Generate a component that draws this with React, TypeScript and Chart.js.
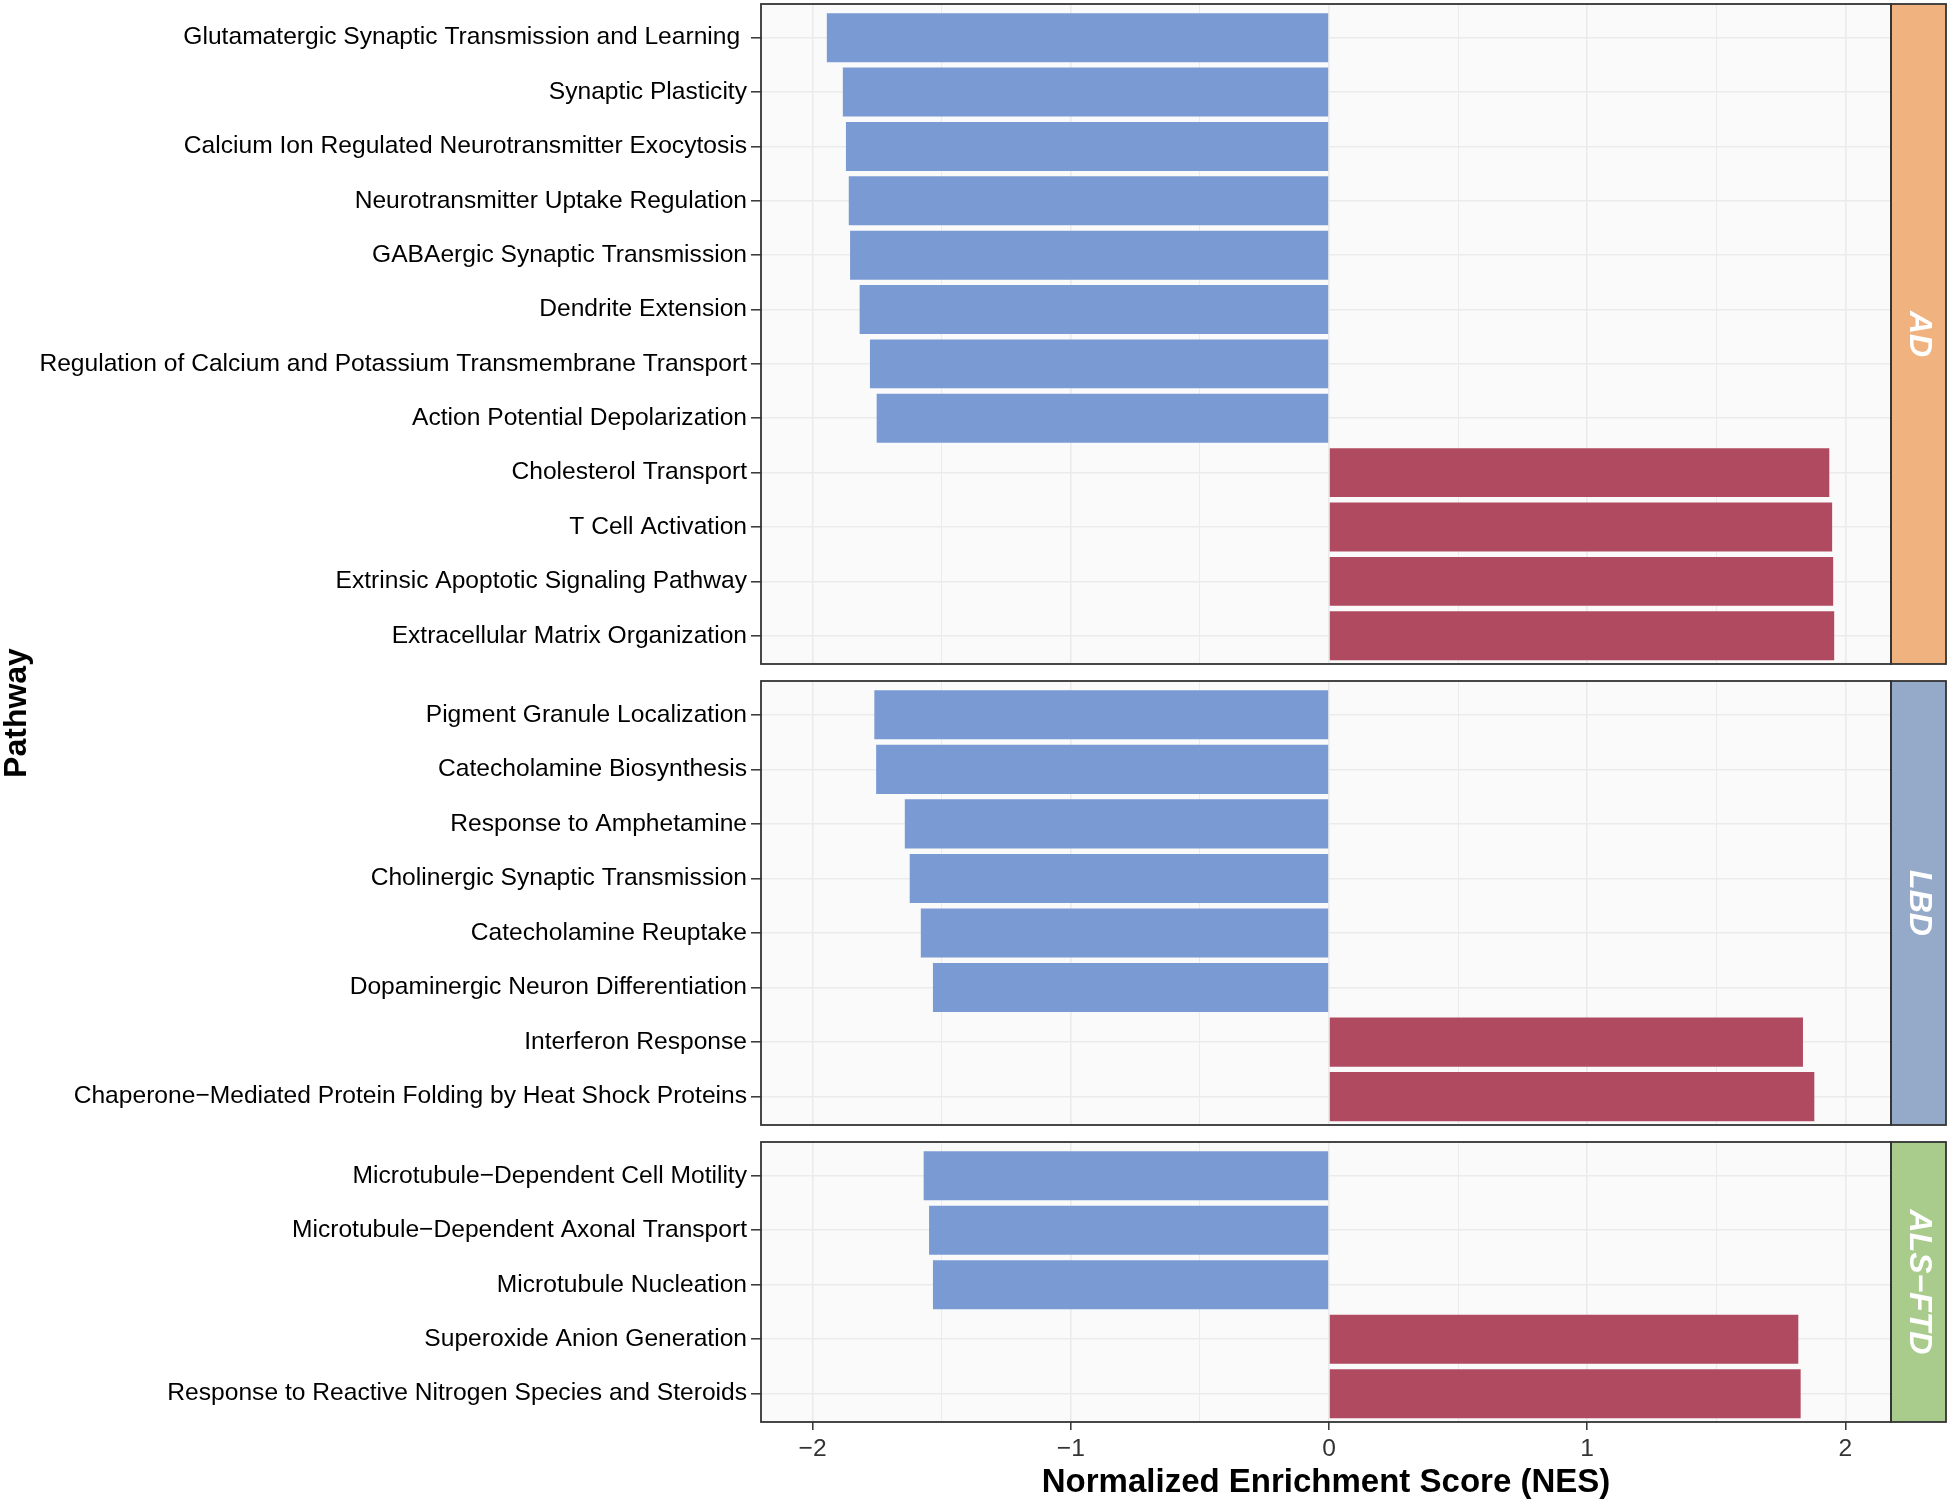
import React, { useEffect, useRef } from "react";
import { Chart, registerables } from "chart.js";
Chart.register(...registerables);

const W = 1950;
const H = 1502;

const adLabels = [
  "Glutamatergic Synaptic Transmission and Learning ",
  "Synaptic Plasticity",
  "Calcium Ion Regulated Neurotransmitter Exocytosis",
  "Neurotransmitter Uptake Regulation",
  "GABAergic Synaptic Transmission",
  "Dendrite Extension",
  "Regulation of Calcium and Potassium Transmembrane Transport",
  "Action Potential Depolarization",
  "Cholesterol Transport",
  "T Cell Activation",
  "Extrinsic Apoptotic Signaling Pathway",
  "Extracellular Matrix Organization",
];
const adValues = [-1.945, -1.883, -1.871, -1.86, -1.855, -1.818, -1.778, -1.752, 1.938, 1.949, 1.953, 1.957];

const lbdLabels = [
  "Pigment Granule Localization",
  "Catecholamine Biosynthesis",
  "Response to Amphetamine",
  "Cholinergic Synaptic Transmission",
  "Catecholamine Reuptake",
  "Dopaminergic Neuron Differentiation",
  "Interferon Response",
  "Chaperone\u2212Mediated Protein Folding by Heat Shock Proteins",
];
const lbdValues = [-1.761, -1.754, -1.643, -1.624, -1.581, -1.534, 1.836, 1.88];

const alsLabels = [
  "Microtubule\u2212Dependent Cell Motility",
  "Microtubule\u2212Dependent Axonal Transport",
  "Microtubule Nucleation",
  "Superoxide Anion Generation",
  "Response to Reactive Nitrogen Species and Steroids",
];
const alsValues = [-1.57, -1.549, -1.534, 1.818, 1.827];

const panelNames = ["AD", "LBD", "ALS\u2212FTD"];
const stripColors = ["#F0B27E", "#94AAC8", "#A9CC8D"];
const xTickValues = [-2, -1.5, -1, -0.5, 0, 0.5, 1, 1.5, 2];
const xTitle = "Normalized Enrichment Score (NES)";
const yTitle = "Pathway";

const X_MIN = -2.2;
const X_MAX = 2.177;
const Y_EXPAND_TOP = 0.62;
const Y_EXPAND_BOTTOM = 0.52;
const PLOT_LEFT = 761;
const PLOT_RIGHT = 1891;
const STRIP_RIGHT = 1946;
const PANEL_BOUNDS = [
  [4, 664],
  [681, 1125],
  [1142, 1422],
];

const NEG_COLOR = "#7A9AD4";
const POS_COLOR = "#B04A60";
const FONT = '"Liberation Sans", Arial, Helvetica, sans-serif';

function makeConfig(idx: number, labels: string[], values: number[]) {
  const isLast = idx === 2;
  const [top, bottom] = PANEL_BOUNDS[idx];
  const panelPlugin = {
    id: "panelDeco" + idx,
    beforeDraw(chart: any) {
      const { ctx, chartArea: a } = chart;
      ctx.save();
      ctx.fillStyle = "#FAFAFA";
      ctx.fillRect(a.left, a.top, a.right - a.left, a.bottom - a.top);
      ctx.restore();
    },
    afterDraw(chart: any) {
      const { ctx, chartArea: a } = chart;
      ctx.save();
      ctx.fillStyle = stripColors[idx];
      ctx.fillRect(a.right, a.top, STRIP_RIGHT - a.right, a.bottom - a.top);
      ctx.strokeStyle = "#333333";
      ctx.lineWidth = 1.8;
      ctx.strokeRect(a.right, a.top, STRIP_RIGHT - a.right, a.bottom - a.top);
      ctx.strokeRect(a.left, a.top, a.right - a.left, a.bottom - a.top);
      ctx.translate((a.right + STRIP_RIGHT) / 2, (a.top + a.bottom) / 2);
      ctx.rotate(Math.PI / 2);
      ctx.fillStyle = "#FFFFFF";
      ctx.font = "italic bold 32px " + FONT;
      ctx.textAlign = "center";
      ctx.textBaseline = "middle";
      ctx.fillText(panelNames[idx], 0, 0);
      ctx.restore();
      if (idx === 1) {
        ctx.save();
        ctx.translate(17, (PANEL_BOUNDS[0][0] + PANEL_BOUNDS[2][1]) / 2);
        ctx.rotate(-Math.PI / 2);
        ctx.fillStyle = "#000000";
        ctx.font = "bold 32px " + FONT;
        ctx.textAlign = "center";
        ctx.textBaseline = "middle";
        ctx.fillText(yTitle, 0, 0);
        ctx.restore();
      }
    },
  };

  return {
    type: "bar",
    data: {
      datasets: [
        {
          data: values.map((v, i) => ({ x: v, y: i })),
          backgroundColor: values.map((v) => (v < 0 ? NEG_COLOR : POS_COLOR)),
          borderWidth: 0,
          barPercentage: 0.9,
          categoryPercentage: 1.0,
        },
      ],
    },
    options: {
      indexAxis: "y",
      animation: false,
      responsive: false,
      devicePixelRatio: 1,
      layout: {
        padding: {
          left: 0,
          right: W - PLOT_RIGHT,
          top: top,
          bottom: isLast ? 0 : H - bottom,
        },
      },
      plugins: {
        legend: { display: false },
        tooltip: { enabled: false },
      },
      scales: {
        x: {
          type: "linear",
          min: X_MIN,
          max: X_MAX,
          bounds: "data",
          offset: false,
          position: "bottom",
          afterBuildTicks: (s: any) => {
            s.ticks = xTickValues.map((v) => ({ value: v }));
          },
          afterFit: (s: any) => {
            s.height = isLast ? H - PANEL_BOUNDS[2][1] : 0;
            s.paddingLeft = 0;
            s.paddingRight = 0;
          },
          border: { display: false },
          grid: {
            offset: false,
            color: "#EBEBEB",
            lineWidth: (c: any) => (Number.isInteger(c.tick?.value) ? 1.6 : 1.0),
            drawTicks: isLast,
            tickLength: 8,
            tickWidth: 1.5,
            tickColor: (c: any) => (Number.isInteger(c.tick?.value) ? "#333333" : "rgba(0,0,0,0)"),
          },
          ticks: {
            display: isLast,
            autoSkip: false,
            includeBounds: false,
            maxRotation: 0,
            padding: 4,
            color: "#333333",
            font: { size: 24.6, family: FONT },
            callback: (v: any) => {
              const n = Number(v);
              if (!Number.isInteger(n)) return "";
              return n < 0 ? "\u2212" + Math.abs(n) : String(n);
            },
          },
          title: {
            display: isLast,
            text: xTitle,
            color: "#000000",
            font: { size: 33, weight: "bold", family: FONT, lineHeight: 1.0 },
            padding: { top: 0, bottom: 3 },
          },
        },
        y: {
          type: "linear",
          reverse: true,
          min: -Y_EXPAND_TOP,
          max: labels.length - 1 + Y_EXPAND_BOTTOM,
          bounds: "data",
          offset: false,
          afterBuildTicks: (s: any) => {
            s.ticks = labels.map((_, i) => ({ value: i }));
          },
          afterFit: (s: any) => {
            s.width = PLOT_LEFT;
            s.paddingTop = 0;
            s.paddingBottom = 0;
          },
          border: { display: false },
          grid: {
            offset: false,
            color: "#EBEBEB",
            lineWidth: 1.6,
            drawTicks: true,
            tickLength: 10,
            tickWidth: 1.5,
            tickColor: "#333333",
          },
          ticks: {
            autoSkip: false,
            includeBounds: false,
            padding: 4,
            color: "#000000",
            font: { size: 24.6, family: FONT },
            callback: (v: any) => labels[Number(v)] ?? "",
          },
        },
      },
    },
    plugins: [panelPlugin],
  } as any;
}

export default function App() {
  const r1 = useRef<HTMLCanvasElement>(null);
  const r2 = useRef<HTMLCanvasElement>(null);
  const r3 = useRef<HTMLCanvasElement>(null);

  useEffect(() => {
    const charts = [
      new Chart(r1.current as HTMLCanvasElement, makeConfig(0, adLabels, adValues)),
      new Chart(r2.current as HTMLCanvasElement, makeConfig(1, lbdLabels, lbdValues)),
      new Chart(r3.current as HTMLCanvasElement, makeConfig(2, alsLabels, alsValues)),
    ];
    return () => charts.forEach((c) => c.destroy());
  }, []);

  const cs: React.CSSProperties = { position: "absolute", left: 0, top: 0, width: W, height: H };
  return (
    <div style={{ position: "absolute", left: 0, top: 0, width: W, height: H, background: "#FFFFFF" }}>
      <canvas ref={r1} width={W} height={H} style={cs} />
      <canvas ref={r2} width={W} height={H} style={cs} />
      <canvas ref={r3} width={W} height={H} style={cs} />
    </div>
  );
}
